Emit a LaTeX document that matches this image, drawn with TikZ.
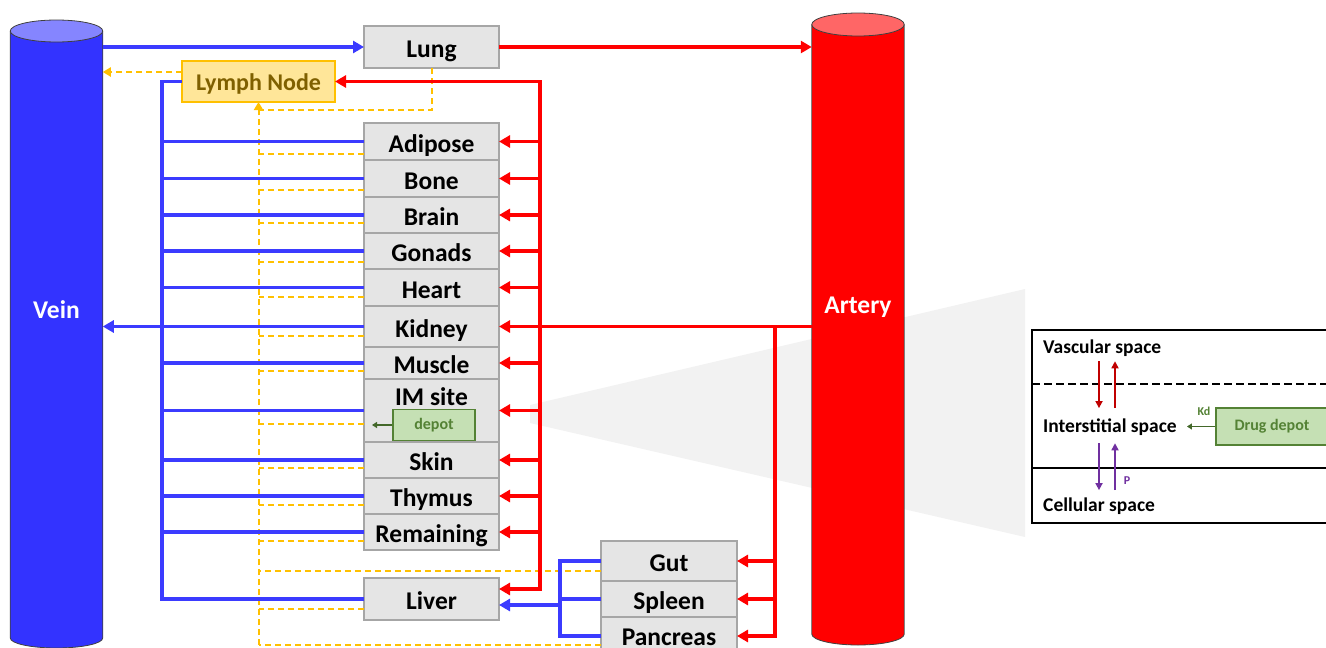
\documentclass[tikz,border=0pt]{standalone}
\usepackage{fontspec}
\setmainfont{Carlito}
\usepackage{tikz}
\usetikzlibrary{positioning, arrows.meta, calc}

\definecolor{veinblue}{HTML}{3333FF}
\definecolor{veintop}{HTML}{8585FF}
\definecolor{flowblue}{HTML}{3B3BFF}
\definecolor{arteryred}{HTML}{FF0000}
\definecolor{arterytop}{HTML}{FF6666}
\definecolor{lymphgold}{HTML}{FFC000}
\definecolor{lymphfill}{HTML}{FFE699}
\definecolor{lymphtext}{HTML}{7F6000}
\definecolor{depotfill}{HTML}{C5E0B4}
\definecolor{depotgreen}{HTML}{548235}
\definecolor{darkred}{HTML}{C00000}
\definecolor{cellpurple}{HTML}{7030A0}
\definecolor{wedgegray}{HTML}{F2F2F2}

\tikzset{
  organ/.style={draw=gray!70, fill=gray!20, line width=1.2pt, minimum width=135pt,
    inner sep=0pt, outer sep=0pt, text height=21pt, text depth=0pt,
    font=\fontsize{25.5}{28}\selectfont\bfseries},
  vessel/.style={fill=#1, minimum width=92.5pt, inner sep=0pt, outer sep=0pt,
    text=white, text height=17pt, text depth=49pt, font=\fontsize{25.5}{28}\selectfont\bfseries},
  rim/.style={draw=black!75, line width=0.8pt},
  depotbox/.style={draw=depotgreen, fill=depotfill, line width=1.2pt, text=depotgreen,
    inner sep=0pt, font=\fontsize{16}{18}\selectfont\bfseries},
  blueflow/.style={draw=flowblue, line width=3.5pt},
  redflow/.style={draw=arteryred, line width=3.5pt},
  lymphflow/.style={draw=lymphgold, line width=2pt, dash pattern=on 6pt off 4pt},
  flowtip/.style={-{Triangle[length=11pt, width=12pt]}},
  bothtips/.style={{Triangle[length=11pt, width=12pt]}-{Triangle[length=11pt, width=12pt]}},
  smalltip/.style={-{Triangle[length=8pt, width=9pt]}},
  spacelabel/.style={anchor=base west, inner sep=0pt, font=\fontsize{19.5}{22}\selectfont\bfseries},
  exchange/.style={line width=1.6pt, -{Triangle[length=7pt, width=7pt]}},
  depotflow/.style={draw=depotgreen!80!black, line width=1.2pt, -{Triangle[length=5pt, width=6pt]}}
}

\begin{document}
\begin{tikzpicture}[x=1pt, y=-1pt]
  \useasboundingbox (0,0) rectangle (1326,648);
  % Zoom wedge towards the tissue panel
  \fill[wedgegray] (530,405) -- (1025,289) -- (1025,537) -- (530,423) -- cycle;

  % Vein and artery
  \node[vessel=veinblue, minimum height=607pt] (vein) at (56.5,334.5) {Vein};
  \fill[veinblue] (vein.south west) arc[start angle=180, end angle=360, x radius=46.25pt, y radius=10pt] -- cycle;
  \draw[rim] (vein.north west) -- (vein.south west) arc[start angle=180, end angle=360, x radius=46.25pt, y radius=10pt] -- (vein.north east);
  \draw[rim, fill=veintop] (vein.north) ellipse[x radius=46.25pt, y radius=11pt];

  \node[vessel=arteryred, minimum height=609.5pt] (artery) at (858,329.25) {Artery};
  \fill[arteryred] (artery.south west) arc[start angle=180, end angle=360, x radius=46.25pt, y radius=11pt] -- cycle;
  \draw[rim] (artery.north west) -- (artery.south west) arc[start angle=180, end angle=360, x radius=46.25pt, y radius=11pt] -- (artery.north east);
  \draw[rim, fill=arterytop] (artery.north) ellipse[x radius=46.25pt, y radius=11.5pt];

  % Organs
  \node[organ, minimum height=42pt] (lung) at (431.5,47) {Lung};
  \node[draw=lymphgold, fill=lymphfill, line width=1.2pt, text=lymphtext, minimum width=153pt,
    minimum height=41pt, inner sep=0pt, outer sep=0pt, text height=17pt, text depth=0pt,
    font=\fontsize{24}{28}\selectfont\bfseries] (lymph) at (258.5,81.5) {Lymph Node};
  \node[organ, minimum height=37pt] (adipose) at (431.5,141.5) {Adipose};
  \node[organ, minimum height=37pt, below=0pt of adipose] (bone) {Bone};
  \node[organ, minimum height=36pt, below=0pt of bone] (brain) {Brain};
  \node[organ, minimum height=36pt, below=0pt of brain] (gonads) {Gonads};
  \node[organ, minimum height=37pt, below=0pt of gonads] (heart) {Heart};
  \node[organ, minimum height=41pt, below=0pt of heart] (kidney) {Kidney};
  \node[organ, minimum height=32pt, below=0pt of kidney] (muscle) {Muscle};
  \node[organ, minimum height=63pt, text depth=31pt, below=0pt of muscle] (imsite) {IM site};
  \node[organ, minimum height=36pt, below=0pt of imsite] (skin) {Skin};
  \node[organ, minimum height=36pt, below=0pt of skin] (thymus) {Thymus};
  \node[organ, minimum height=36pt, below=0pt of thymus] (remaining) {Remaining};
  \node[organ, minimum height=42pt] (liver) at (431.5,599) {Liver};
  \node[organ, minimum width=136pt, minimum height=40pt] (gut) at (669,561) {Gut};
  \node[organ, minimum width=136pt, minimum height=36pt, below=0pt of gut] (spleen) {Spleen};
  \node[organ, minimum width=136pt, minimum height=38pt, text height=18pt, below=0pt of spleen] (pancreas) {Pancreas};
  \node[depotbox, minimum width=82pt, minimum height=31pt] (depot) at (434,425) {depot};

  \coordinate (bluebus) at (162,81.5);
  \coordinate (redbus) at (540,81.5);
  \coordinate (gutbus) at (560,605);
  \coordinate (arterybus) at (775,0);
  \coordinate (liverin) at ($(liver.east)+(0,-10)$);

  % Lymph flow
  \foreach \o/\d in {adipose/12, bone/11, brain/8, gonads/11, heart/9, kidney/9, muscle/8, imsite/13,
    skin/8, thymus/9, remaining/9, liver/10, gut/10, pancreas/9} {
    \coordinate (y\o) at ($(\o.west)+(0,\d)$);
    \draw[lymphflow] (y\o) -- (y\o -| lymph.south);
  }
  \draw[lymphflow, smalltip] (lymph.south |- ypancreas) -- (lymph.south);
  \draw[lymphflow] (lung.south) |- ($(lymph.south)+(0,8)$);
  \coordinate (lymphout) at ($(lymph.west)+(0,-9.5)$);
  \draw[lymphflow, smalltip] (lymphout) -- (lymphout -| vein.east);

  % Venous return
  \draw[blueflow] (lymph.west) -- (bluebus) -- (bluebus |- liver.west) -- (liver.west);
  \foreach \o in {adipose, bone, brain, gonads, heart, muscle, imsite, skin, thymus, remaining}
    \draw[blueflow] (\o.west) -- (bluebus |- \o.west);
  \draw[blueflow, flowtip] (kidney.west) -- (kidney.west -| vein.east);
  \draw[blueflow] (gut.west) -- (gut.west -| gutbus) -- (pancreas.west -| gutbus) -- (pancreas.west);
  \draw[blueflow] (spleen.west) -- (spleen.west -| gutbus);
  \draw[blueflow, flowtip] (gutbus) -- (gutbus -| liver.east);
  \draw[blueflow, flowtip] (lung.west -| vein.east) -- (lung.west);

  % Arterial supply
  \draw[redflow, flowtip] (lung.east) -- (lung.east -| artery.west);
  \draw[redflow, flowtip] (kidney.east -| artery.west) -- (kidney.east);
  \draw[redflow, bothtips] (liverin) -- (redbus |- liverin) -- (redbus) -- (lymph.east);
  \foreach \o in {adipose, bone, brain, gonads, heart, muscle, imsite, skin, thymus, remaining}
    \draw[redflow, flowtip] (redbus |- \o.east) -- (\o.east);
  \draw[redflow, flowtip] (kidney.east -| arterybus) -- (arterybus |- pancreas.east) -- (pancreas.east);
  \foreach \o in {gut, spleen}
    \draw[redflow, flowtip] (arterybus |- \o.east) -- (\o.east);
  \draw[depotflow] (depot.west) -- ($(imsite.west |- depot.west)+(8,0)$);

  % Tissue panel
  \draw[line width=1.2pt, fill=white] (1032,330) rectangle (1340,523);
  \draw[line width=1.2pt, dash pattern=on 8pt off 4pt] (1032,384) -- (1326,384);
  \draw[line width=1.2pt] (1032,468) -- (1326,468);
  \node[spacelabel] (vascular) at (1043,353) {Vascular space};
  \node[spacelabel] (interstitial) at (1043,432) {Interstitial space};
  \node[spacelabel] (cellular) at (1043,511) {Cellular space};
  \coordinate (dn) at (1099,0);
  \coordinate (up) at (1115,0);
  \draw[exchange, darkred, shorten <=5pt, shorten >=10pt] (vascular.south -| dn) -- (interstitial.north -| dn);
  \draw[exchange, darkred, shorten <=10pt, shorten >=5pt] (interstitial.north -| up) -- (vascular.south -| up);
  \draw[exchange, cellpurple, shorten <=8pt, shorten >=7pt] (interstitial.south -| dn) -- (cellular.north -| dn);
  \draw[exchange, cellpurple, shorten <=7pt, shorten >=8pt] (cellular.north -| up) -- (interstitial.south -| up);
  \node[text=cellpurple, font=\fontsize{12}{14}\selectfont\bfseries] (perm) at (1127,481) {P};
  \node[depotbox, minimum width=112pt, minimum height=37pt] (drugdepot) at (1272,426.5) {Drug depot};
  \node[text=depotgreen, font=\fontsize{12}{14}\selectfont\bfseries] (kd) at (1204,411) {Kd};
  \draw[depotflow, shorten >=10pt] (drugdepot.west) -- (drugdepot.west -| interstitial.east);
\end{tikzpicture}
\end{document}
